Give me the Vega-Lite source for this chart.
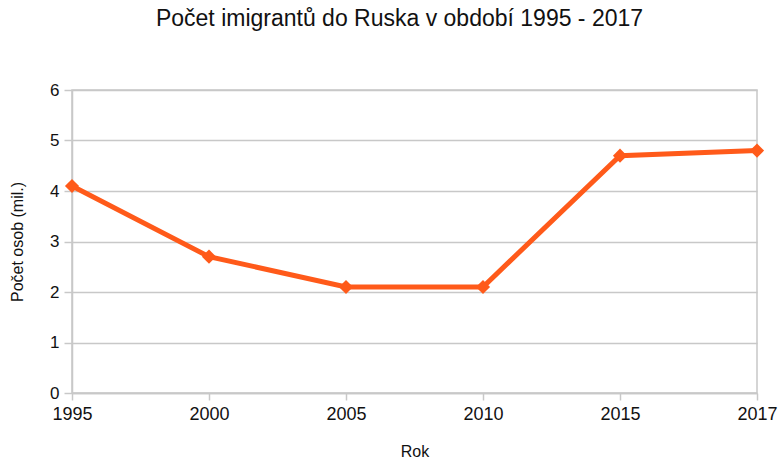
{
  "$schema": "https://vega.github.io/schema/vega-lite/v6.json",
  "width": 685,
  "height": 303,
  "autosize": {"type": "none"},
  "padding": {"left": 72, "top": 90, "right": 21, "bottom": 67},
  "background": "white",
  "config": {
    "font": "Liberation Sans",
    "view": {"stroke": "#c8c8c8", "strokeWidth": 1.5}
  },
  "title": {
    "text": "Počet imigrantů do Ruska v období 1995 - 2017",
    "fontSize": 23,
    "fontWeight": "normal",
    "color": "#111",
    "anchor": "middle",
    "dx": -15,
    "offset": 50
  },
  "data": {
    "values": [
      {"rok": "1995", "pocet": 4.1},
      {"rok": "2000", "pocet": 2.7},
      {"rok": "2005", "pocet": 2.1},
      {"rok": "2010", "pocet": 2.1},
      {"rok": "2015", "pocet": 4.7},
      {"rok": "2017", "pocet": 4.8}
    ]
  },
  "mark": {
    "type": "line",
    "color": "#ff5a1a",
    "strokeWidth": 5,
    "point": {"shape": "diamond", "size": 200, "filled": true, "color": "#ff5a1a"}
  },
  "encoding": {
    "x": {
      "field": "rok",
      "type": "ordinal",
      "scale": {"type": "point", "padding": 0},
      "axis": {
        "title": "Rok",
        "titleFontSize": 16,
        "titleFontWeight": "normal",
        "titleColor": "#111",
        "titlePadding": 20,
        "labelAngle": 0,
        "labelFontSize": 18,
        "labelColor": "#111",
        "labelPadding": 5,
        "domainColor": "#c8c8c8",
        "domainWidth": 1.5,
        "tickColor": "#c8c8c8",
        "tickSize": 7,
        "tickWidth": 1.5,
        "grid": false,
        "labelFlush": false
      }
    },
    "y": {
      "field": "pocet",
      "type": "quantitative",
      "scale": {"domain": [0, 6], "nice": false},
      "axis": {
        "title": "Počet osob (mil.)",
        "titleFontSize": 16,
        "titleFontWeight": "normal",
        "titleColor": "#111",
        "titlePadding": 24,
        "values": [0, 1, 2, 3, 4, 5, 6],
        "labelFontSize": 17,
        "labelColor": "#111",
        "labelPadding": 5,
        "domainColor": "#c8c8c8",
        "domainWidth": 1.5,
        "tickColor": "#c8c8c8",
        "tickSize": 8,
        "tickWidth": 1.5,
        "gridColor": "#c8c8c8",
        "gridWidth": 1.5
      }
    }
  }
}
